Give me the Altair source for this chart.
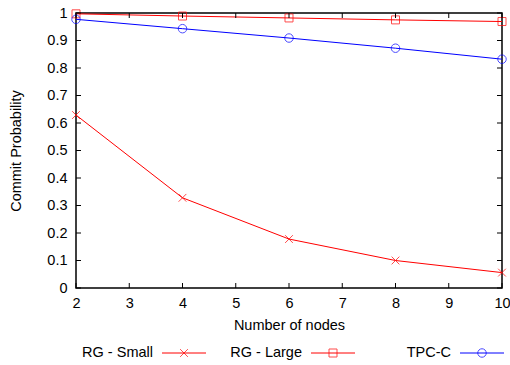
import altair as alt
import pandas as pd

nodes = [2, 4, 6, 8, 10]
series_names = ["RG - Small", "RG - Large", "TPC-C"]
rg_small = [0.629, 0.328, 0.178, 0.100, 0.056]
rg_large = [0.997, 0.989, 0.982, 0.975, 0.969]
tpc_c = [0.977, 0.943, 0.909, 0.872, 0.832]
x_ticks = [2, 3, 4, 5, 6, 7, 8, 9, 10]
y_ticks = [0, 0.1, 0.2, 0.3, 0.4, 0.5, 0.6, 0.7, 0.8, 0.9, 1.0]

colors = ["#ff0000", "#ff0000", "#0000ff"]
shapes = ["M-1,-1L1,1M-1,1L1,-1", "square", "circle"]
sizes = [60, 64, 72]

W, H = 426, 275
FONT = "Liberation Sans"
FS = 14.5

rows = []
for name, vals in zip(series_names, [rg_small, rg_large, tpc_c]):
    for n, v in zip(nodes, vals):
        rows.append({"nodes": n, "prob": v, "series": name})
df = pd.DataFrame(rows)

xs = alt.Scale(domain=[2, 10], nice=False, zero=False)
ys = alt.Scale(domain=[0, 1], nice=False)

x_axis = alt.Axis(values=x_ticks, ticks=False, tickSize=0, domain=False, grid=False,
                  labelOverlap=False, labelBound=False, labelFlush=False,
                  labelFontSize=FS, labelFont=FONT, labelColor="black", labelPadding=8.5,
                  title="Number of nodes", titleFont=FONT, titleFontSize=FS,
                  titleFontWeight="normal", titleColor="black",
                  titleX=W / 2, titleY=37.5, titleBaseline="middle")
y_axis = alt.Axis(values=y_ticks, ticks=False, tickSize=0, domain=False, grid=False,
                  labelOverlap=False, labelBound=False, labelFlush=False,
                  labelFontSize=FS, labelFont=FONT, labelColor="black", labelPadding=9,
                  format="~g",
                  title="Commit Probability", titleFont=FONT, titleFontSize=FS,
                  titleFontWeight="normal", titleColor="black",
                  titleX=-60, titleY=H / 2, titleAngle=-90,
                  titleAlign="center", titleBaseline="middle")


def X(field):
    return alt.X(field, scale=xs, axis=x_axis, title="Number of nodes")


def Y(field):
    return alt.Y(field, scale=ys, axis=y_axis, title="Commit Probability")


layers = []

xt = pd.DataFrame({"t": x_ticks})
yt = pd.DataFrame({"t": y_ticks})
TL = 5
tick_style = dict(color="black", strokeWidth=1)

for name, col, shp, sz in zip(series_names, colors, shapes, sizes):
    sub = df[df.series == name]
    layers.append(alt.Chart(sub).mark_line(color=col, strokeWidth=1).encode(
        x=X("nodes:Q"), y=Y("prob:Q")))
    layers.append(alt.Chart(sub).mark_point(shape=shp, color=col, size=sz, strokeWidth=1,
                                            filled=False).encode(
        x=X("nodes:Q"), y=Y("prob:Q")))

layers.append(alt.Chart(xt).mark_rule(**tick_style).encode(
    x=X("t:Q"), y=alt.value(H), y2=alt.value(H - TL)))
layers.append(alt.Chart(xt).mark_rule(**tick_style).encode(
    x=X("t:Q"), y=alt.value(0), y2=alt.value(TL)))
layers.append(alt.Chart(yt).mark_rule(**tick_style).encode(
    y=Y("t:Q"), x=alt.value(0), x2=alt.value(TL)))
layers.append(alt.Chart(yt).mark_rule(**tick_style).encode(
    y=Y("t:Q"), x=alt.value(W), x2=alt.value(W - TL)))

one = pd.DataFrame({"a": [0]})
LY = 340
for i, (name, col, shp, sz) in enumerate(zip(series_names, colors, shapes, sizes)):
    tx = 77 + 149 * i
    l0 = tx + 9
    l1 = tx + 53
    mx = tx + 31
    layers.append(alt.Chart(pd.DataFrame({"label": [name]})).mark_text(
        align="right", baseline="middle", font=FONT, fontSize=FS, color="black").encode(
        x=alt.value(tx), y=alt.value(LY), text="label:N"))
    layers.append(alt.Chart(one).mark_rule(color=col, strokeWidth=1).encode(
        x=alt.value(l0), x2=alt.value(l1), y=alt.value(LY)))
    layers.append(alt.Chart(one).mark_point(shape=shp, color=col, size=sz, strokeWidth=1,
                                            filled=False).encode(
        x=alt.value(mx), y=alt.value(LY)))

chart = alt.layer(*layers).properties(
    width=W, height=H,
    autosize=alt.AutoSizeParams(type="none"),
    padding={"left": 76, "top": 13, "right": 8, "bottom": 77},
    background="white",
).configure_view(stroke="black", strokeWidth=1.5)

chart.save("out.html", embed_options={"renderer": "svg", "actions": False})
